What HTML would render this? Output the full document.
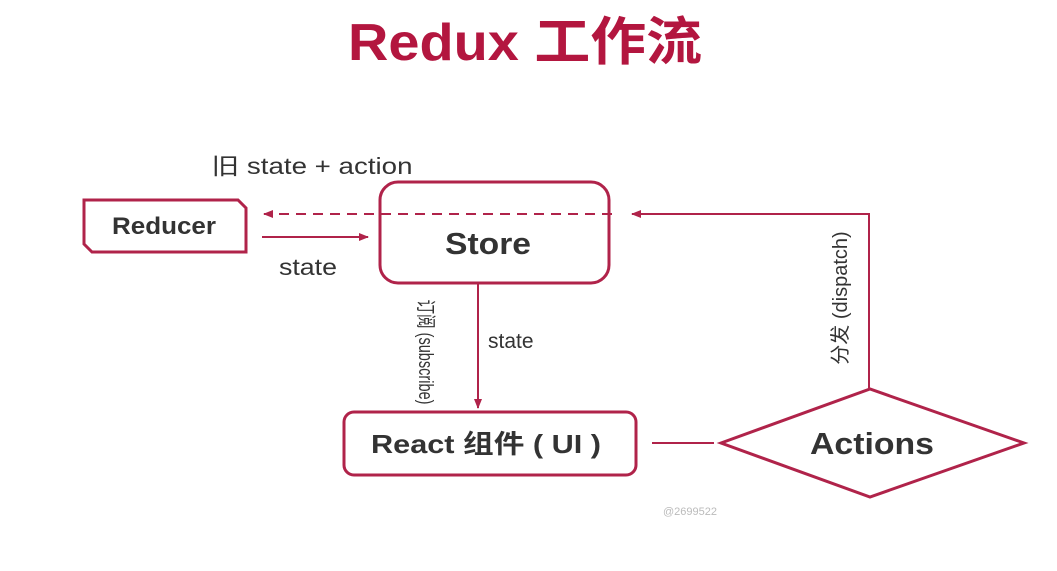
<!DOCTYPE html>
<html><head><meta charset="utf-8"><style>
html,body{margin:0;padding:0;background:#fff;}
svg{display:block;}
text{font-family:"Liberation Sans","Noto Sans CJK SC",sans-serif;}
</style></head><body>
<svg width="1057" height="571" viewBox="0 0 1057 571" xmlns="http://www.w3.org/2000/svg">
<defs>
<marker id="a" markerWidth="10" markerHeight="10" refX="9" refY="5" orient="auto" markerUnits="userSpaceOnUse">
<path d="M0,1 L10,5 L0,9 Z" fill="#b0234a"/></marker>
</defs>
<text x="525" y="60" text-anchor="middle" font-size="52" font-weight="bold" fill="#b3163f" textLength="354" lengthAdjust="spacingAndGlyphs">Redux 工作流</text>
<text x="312" y="174" text-anchor="middle" font-size="23" fill="#333" textLength="201" lengthAdjust="spacingAndGlyphs">旧 state + action</text>
<polygon points="84,200 238,200 246,208 246,252 92,252 84,244" fill="#fff" stroke="#b0234a" stroke-width="3"/>
<text x="164" y="234" text-anchor="middle" font-size="24" font-weight="bold" fill="#333" textLength="104" lengthAdjust="spacingAndGlyphs">Reducer</text>
<rect x="380" y="182" width="229" height="101" rx="18" fill="#fff" stroke="#b0234a" stroke-width="3"/>
<text x="488" y="254" text-anchor="middle" font-size="31" font-weight="bold" fill="#333" textLength="86" lengthAdjust="spacingAndGlyphs">Store</text>
<line x1="612" y1="214" x2="264" y2="214" stroke="#b0234a" stroke-width="2" stroke-dasharray="10,7" marker-end="url(#a)"/>
<polyline points="869,388 869,214 632,214" fill="none" stroke="#b0234a" stroke-width="2" marker-end="url(#a)"/>
<line x1="262" y1="237" x2="368" y2="237" stroke="#b0234a" stroke-width="2" marker-end="url(#a)"/>
<text x="308" y="275" text-anchor="middle" font-size="23" fill="#333" textLength="58" lengthAdjust="spacingAndGlyphs">state</text>
<line x1="478" y1="283" x2="478" y2="408" stroke="#b0234a" stroke-width="2" marker-end="url(#a)"/>
<text x="488" y="348" font-size="21" fill="#333">state</text>
<text transform="translate(419,352) rotate(90)" text-anchor="middle" font-size="20" fill="#333" textLength="105" lengthAdjust="spacingAndGlyphs">订阅 (subscribe)</text>
<text transform="translate(847,298) rotate(-90)" text-anchor="middle" font-size="20" fill="#333">分发 (dispatch)</text>
<rect x="344" y="412" width="292" height="63" rx="10" fill="#fff" stroke="#b0234a" stroke-width="3"/>
<text x="486" y="453" text-anchor="middle" font-size="26" font-weight="bold" fill="#333" textLength="230" lengthAdjust="spacingAndGlyphs">React 组件 ( UI )</text>
<line x1="652" y1="443" x2="714" y2="443" stroke="#b0234a" stroke-width="2"/>
<polygon points="721,443 870,389 1024,443 870,497" fill="#fff" stroke="#b0234a" stroke-width="3"/>
<text x="872" y="454" text-anchor="middle" font-size="31" font-weight="bold" fill="#333" textLength="124" lengthAdjust="spacingAndGlyphs">Actions</text>
<text x="690" y="515" text-anchor="middle" font-size="11" fill="#bbb">@2699522</text>
</svg>
</body></html>
